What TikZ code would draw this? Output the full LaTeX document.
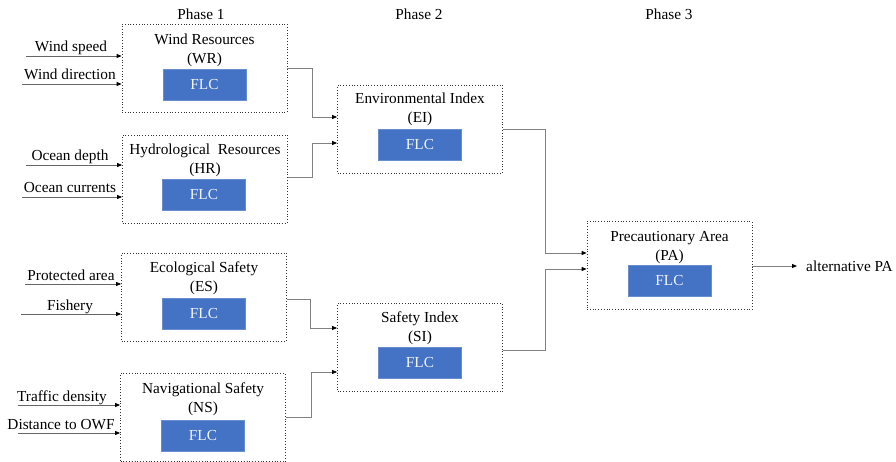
\documentclass[tikz,border=0pt]{standalone}
\usepackage{fontspec}
\setmainfont{Liberation Serif}
\usetikzlibrary{calc,arrows.meta}
\definecolor{flcblue}{HTML}{4472C4}
\definecolor{linegray}{HTML}{808080}
\begin{document}
\begin{tikzpicture}[x=1pt,y=-1pt,
  font=\rmfamily\fontsize{15.3}{19}\selectfont,
  phasebox/.style={draw=black!80,dotted,line width=0.8pt,minimum width=165pt,minimum height=88pt,inner sep=0pt},
  flcbox/.style={fill=flcblue,draw=flcblue!80!white,line width=0.6pt,text=white!92!flcblue,minimum width=83pt,minimum height=31pt,inner sep=0pt},
  titletext/.style={align=center,inner sep=0pt},
  inlabel/.style={anchor=base,inner sep=0pt},
  conn/.style={draw=linegray,line width=0.8pt,-{Triangle[length=5pt,width=4pt,color=black]}},
  inarrow/.style={draw=black!60,line width=0.8pt,-{Triangle[length=5pt,width=4pt,color=black]}}
]
\useasboundingbox (0,0) rectangle (896,462);

% phase labels
\node (p1) at (201,14) {Phase 1};
\node (p2) at (419,14) {Phase 2};
\node (p3) at (669,14) {Phase 3};

% boxes
\node[phasebox] (wr) at (204.5,68) {};
\node[phasebox] (hr) at (205,179) {};
\node[phasebox] (es) at (204,297) {};
\node[phasebox] (ns) at (203,417.5) {};
\node[phasebox] (ei) at (420,129) {};
\node[phasebox] (si) at (420,347.5) {};
\node[phasebox] (pa) at (669.5,265.5) {};

% titles
\node[titletext] (wrt) at ($(wr.north)+(0,26.5)$) {Wind Resources\\(WR)};
\node[titletext] (hrt) at ($(hr.north)+(0,26)$) {Hydrological\ \ Resources\\(HR)};
\node[titletext] (est) at ($(es.north)+(0,26)$) {Ecological Safety\\(ES)};
\node[titletext] (nst) at ($(ns.north)+(0,26)$) {Navigational Safety\\(NS)};
\node[titletext] (eit) at ($(ei.north)+(0,25)$) {Environmental Index\\(EI)};
\node[titletext] (sit) at ($(si.north)+(0,25)$) {Safety Index\\(SI)};
\node[titletext] (pat) at ($(pa.north)+(0,26.5)$) {Precautionary Area\\(PA)};

% FLC blocks
\node[flcbox] (wrf) at ($(wr.center)+(0,17)$) {FLC};
\node[flcbox] (hrf) at ($(hr.center)+(-1,16)$) {FLC};
\node[flcbox] (esf) at ($(es.center)+(0,16.5)$) {FLC};
\node[flcbox] (nsf) at ($(ns.center)+(0,18)$) {FLC};
\node[flcbox] (eif) at ($(ei.center)+(0,15.5)$) {FLC};
\node[flcbox] (sif) at ($(si.center)+(0,15)$) {FLC};
\node[flcbox] (paf) at ($(pa.center)+(0,15.5)$) {FLC};

% input start coordinates
\coordinate (i1) at (26,56);
\coordinate (i2) at (22,84);
\coordinate (i3) at (26,165);
\coordinate (i4) at (22,197);
\coordinate (i5) at (25,284);
\coordinate (i6) at (21,314);
\coordinate (i7) at (18,405);
\coordinate (i8) at (18,433);

\draw[inarrow] (i1) -- (wr.west |- i1);
\draw[inarrow] (i2) -- (wr.west |- i2);
\draw[inarrow] (i3) -- (hr.west |- i3);
\draw[inarrow] (i4) -- (hr.west |- i4);
\draw[inarrow] (i5) -- (es.west |- i5);
\draw[inarrow] (i6) -- (es.west |- i6);
\draw[inarrow] (i7) -- (ns.west |- i7);
\draw[inarrow] (i8) -- (ns.west |- i8);

\node[inlabel] (l1) at (71,52) {Wind speed};
\node[inlabel] (l2) at (70,80) {Wind direction};
\node[inlabel] (l3) at (70,161) {Ocean depth};
\node[inlabel] (l4) at (70,193) {Ocean currents};
\node[inlabel] (l5) at (71,280) {Protected area};
\node[inlabel] (l6) at (70,310) {Fishery};
\node[inlabel] (l7) at (62,401) {Traffic density};
\node[inlabel] (l8) at (61,429) {Distance to OWF};

% phase 1 -> phase 2
\draw[conn] ($(wr.north east)+(0,45)$) -| (312,117) -- (ei.west |- 0,117);
\draw[conn] ($(hr.north east)+(0,43)$) -| (312,143) -- (ei.west |- 0,143);
\draw[conn] ($(es.north east)+(0,47)$) -| (310,328) -- (si.west |- 0,328);
\draw[conn] ($(ns.north east)+(0,44.5)$) -| (311,372) -- (si.west |- 0,372);

% phase 2 -> phase 3
\draw[conn] ($(ei.north east)+(0,45)$) -| (545,253) -- (pa.west |- 0,253);
\draw[conn] ($(si.north east)+(0,47)$) -| (545,269) -- (pa.west |- 0,269);

% output
\coordinate (out) at (797,266);
\draw[conn] (pa.east |- out) -- (out);
\node[anchor=west,inner sep=0pt] (alt) at (806,266) {alternative PA};
\end{tikzpicture}
\end{document}
